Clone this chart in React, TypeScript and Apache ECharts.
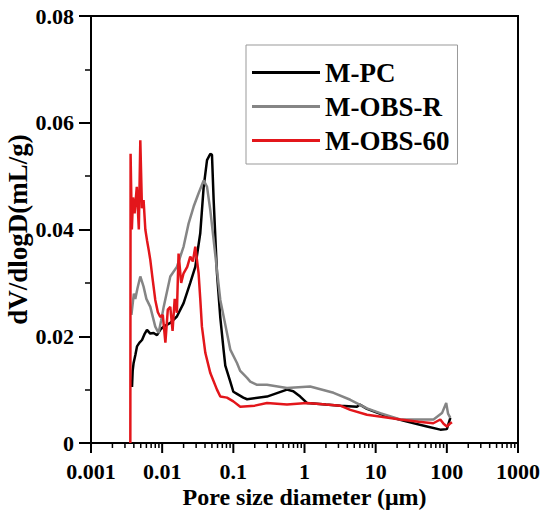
import React, { useEffect, useRef } from "react";
import * as echarts from "echarts";

const seriesNames = ["M-PC", "M-OBS-R", "M-OBS-60"];
const seriesColors = ["#000000", "#858585", "#e3161b"];

const mpc: [number, number][] = [
  [0.00377, 0.0105], [0.00385, 0.0135], [0.00397, 0.015], [0.0042, 0.0165], [0.00443, 0.0181],
  [0.0048, 0.0188], [0.00521, 0.0193], [0.0057, 0.0205], [0.00612, 0.0212], [0.0068, 0.0205],
  [0.00759, 0.0206], [0.00846, 0.0202], [0.0095, 0.0213], [0.0105, 0.0218], [0.013, 0.0225],
  [0.0161, 0.0237], [0.02, 0.0262], [0.0248, 0.03], [0.0292, 0.033], [0.0343, 0.0393],
  [0.0383, 0.048], [0.0427, 0.053], [0.0475, 0.0542], [0.0501, 0.054], [0.0529, 0.0455],
  [0.0589, 0.0318], [0.0656, 0.0235], [0.073, 0.0174], [0.0771, 0.0145], [0.0906, 0.0115],
  [0.1, 0.0096], [0.1125, 0.0092], [0.138, 0.0085], [0.156, 0.0082], [0.297, 0.0087],
  [0.567, 0.01], [0.695, 0.0097], [0.871, 0.0087], [1.08, 0.0075], [2.0, 0.0072],
  [3.18, 0.007], [5.46, 0.0068], [6.0, 0.0072], [7.55, 0.0064], [14.4, 0.005],
  [27.5, 0.004], [52.6, 0.0031], [81, 0.0025], [100, 0.0026], [112, 0.0047],
];

const mobsR: [number, number][] = [
  [0.0037, 0.024], [0.004, 0.028], [0.00419, 0.027], [0.0045, 0.029], [0.00493, 0.0312],
  [0.00548, 0.0293], [0.006, 0.027], [0.00681, 0.0255], [0.008, 0.0218], [0.0089, 0.0206],
  [0.0097, 0.023], [0.0105, 0.0255], [0.013, 0.0312], [0.0161, 0.033], [0.02, 0.0368],
  [0.0235, 0.0411], [0.0277, 0.0443], [0.0325, 0.0468], [0.0383, 0.0492], [0.0427, 0.048],
  [0.0475, 0.0436], [0.0529, 0.038], [0.0589, 0.0324], [0.0656, 0.0268], [0.0814, 0.0206],
  [0.0906, 0.0175], [0.1125, 0.015], [0.125, 0.0135], [0.156, 0.0122], [0.173, 0.0115],
  [0.215, 0.0109], [0.297, 0.0109], [0.567, 0.0103], [1.2, 0.0106], [2.56, 0.0094],
  [4.4, 0.0081], [7.55, 0.0065], [11.6, 0.0056], [22.2, 0.0044], [65, 0.0044],
  [85.5, 0.0056], [98, 0.0075], [104, 0.0055], [112, 0.0047],
];

const mobs60: [number, number][] = [
  [0.00357, 0.0], [0.0036, 0.0542], [0.00375, 0.04], [0.0039, 0.046], [0.0041, 0.043],
  [0.0044, 0.048], [0.0047, 0.04], [0.00493, 0.0567], [0.0052, 0.044], [0.00548, 0.0455],
  [0.0058, 0.04], [0.00612, 0.038], [0.0065, 0.036], [0.00681, 0.0343], [0.0073, 0.031],
  [0.008, 0.0268], [0.0087, 0.0245], [0.00942, 0.0236], [0.0102, 0.024], [0.0111, 0.0188],
  [0.012, 0.025], [0.013, 0.0255], [0.014, 0.021], [0.015, 0.027], [0.0161, 0.0244],
  [0.017, 0.0355], [0.0185, 0.03], [0.02, 0.0318], [0.0225, 0.033], [0.0248, 0.0349],
  [0.027, 0.034], [0.0292, 0.0368], [0.0325, 0.0318], [0.0343, 0.027], [0.0362, 0.0218],
  [0.0404, 0.0169], [0.0475, 0.0131], [0.0589, 0.01], [0.0656, 0.0087], [0.0814, 0.0085],
  [0.1, 0.0078], [0.125, 0.0068], [0.2, 0.007], [0.297, 0.0075], [0.567, 0.0072],
  [1.08, 0.0075], [2.0, 0.0072], [3.18, 0.007], [4.4, 0.0062], [7.55, 0.0053],
  [12, 0.0049], [22.2, 0.0044], [40, 0.004], [64.5, 0.0037], [81, 0.0044],
  [90, 0.0036], [100, 0.0031], [110, 0.0036], [118, 0.0039],
];

const xMajorTicks = [0.001, 0.01, 0.1, 1, 10, 100, 1000];
const xMinorMultipliers = [2, 3, 4, 5, 6, 7, 8, 9];
const yTickValues = [0, 0.02, 0.04, 0.06, 0.08];

const FONT = "'Liberation Serif', 'Times New Roman', serif";

export default function App() {
  const ref = useRef<HTMLDivElement>(null);
  useEffect(() => {
    if (!ref.current) return;
    const chart = echarts.init(ref.current, null, { renderer: "svg" });
    const allData = [mpc, mobsR, mobs60];

    const gridTop = 16;
    const gridBottom = 68;
    const plotHeight = 511 - gridTop - gridBottom;
    const yMax = 0.08;
    const perPx = yMax / plotHeight; // data units per pixel on the y axis

    const minorValues: number[] = [];
    for (let i = 0; i < xMajorTicks.length - 1; i++) {
      for (const m of xMinorMultipliers) minorValues.push(+(xMajorTicks[i] * m).toPrecision(6));
    }
    const tickLine = (values: number[], lenPx: number, width: number) => {
      const data: any[] = [];
      values.forEach((v) => {
        data.push([v, 0], [v, -lenPx * perPx], [v, "-"]);
      });
      return {
        type: "line",
        data,
        silent: true,
        clip: false,
        symbol: "none",
        showSymbol: false,
        connectNulls: false,
        legendHoverLink: false,
        color: "#000",
        lineStyle: { color: "#000", width },
        emphasis: { disabled: true },
        z: 10,
      };
    };

    chart.setOption({
      animation: false,
      backgroundColor: "#ffffff",
      grid: {
        left: 91,
        right: 28,
        top: gridTop,
        bottom: gridBottom,
        show: true,
        borderColor: "#000",
        borderWidth: 2,
        backgroundColor: "transparent",
        containLabel: false,
        outerBoundsMode: "none",
      },
      legend: {
        left: 246,
        top: 45,
        orient: "vertical",
        padding: [14, 8, 10, 6],
        itemWidth: 68,
        itemHeight: 3,
        itemGap: 7,
        borderColor: "#999",
        borderWidth: 1,
        data: seriesNames.map((n) => ({ name: n, icon: "rect" })),
        textStyle: { fontFamily: FONT, fontWeight: "bold", fontSize: 27, color: "#000" },
      },
      xAxis: {
        type: "log",
        logBase: 10,
        min: 0.001,
        max: 1000,
        splitNumber: 6,
        name: "Pore size diameter (μm)",
        nameLocation: "middle",
        nameGap: 42,
        nameMoveOverlap: false,
        nameTextStyle: { fontFamily: FONT, fontWeight: "bold", fontSize: 24, color: "#000" },
        axisLine: { lineStyle: { color: "#000", width: 2 } },
        axisTick: { show: false },
        minorTick: { show: false },
        axisLabel: {
          customValues: xMajorTicks,
          margin: 17,
          fontFamily: FONT,
          fontWeight: "bold",
          fontSize: 22,
          color: "#000",
          formatter: (v: number) => String(+(+v).toPrecision(6)),
        },
        splitLine: { show: false },
      },
      yAxis: {
        type: "value",
        min: 0,
        max: yMax,
        interval: 0.02,
        name: "dV/dlogD(mL/g)",
        nameLocation: "middle",
        nameGap: 60,
        nameMoveOverlap: false,
        nameTextStyle: { fontFamily: FONT, fontWeight: "bold", fontSize: 27, color: "#000" },
        axisLine: { show: true, onZero: false, lineStyle: { color: "#000", width: 2 } },
        axisTick: { show: true, length: 12, lineStyle: { color: "#000", width: 2 } },
        minorTick: { show: true, splitNumber: 2, length: 6, lineStyle: { color: "#000", width: 1.5 } },
        axisLabel: {
          margin: 17,
          fontFamily: FONT,
          fontWeight: "bold",
          fontSize: 22,
          color: "#000",
          formatter: (v: number) => {
            const t = yTickValues.find((a) => Math.abs(a - v) < 1e-9);
            return t === 0 ? "0" : String(t ?? v);
          },
        },
        splitLine: { show: false },
      },
      series: [
        ...seriesNames.map((name, i) => ({
          name,
          type: "line",
          data: allData[i],
          symbol: "none",
          showSymbol: false,
          color: seriesColors[i],
          lineStyle: { color: seriesColors[i], width: 2.5 },
        })),
        tickLine(minorValues, 5, 1.5),
        tickLine(xMajorTicks, 10, 2),
      ],
    });
    return () => chart.dispose();
  }, []);
  return (
    <div
      ref={ref}
      style={{ position: "fixed", left: 0, top: 0, width: 546, height: 511 }}
    />
  );
}
